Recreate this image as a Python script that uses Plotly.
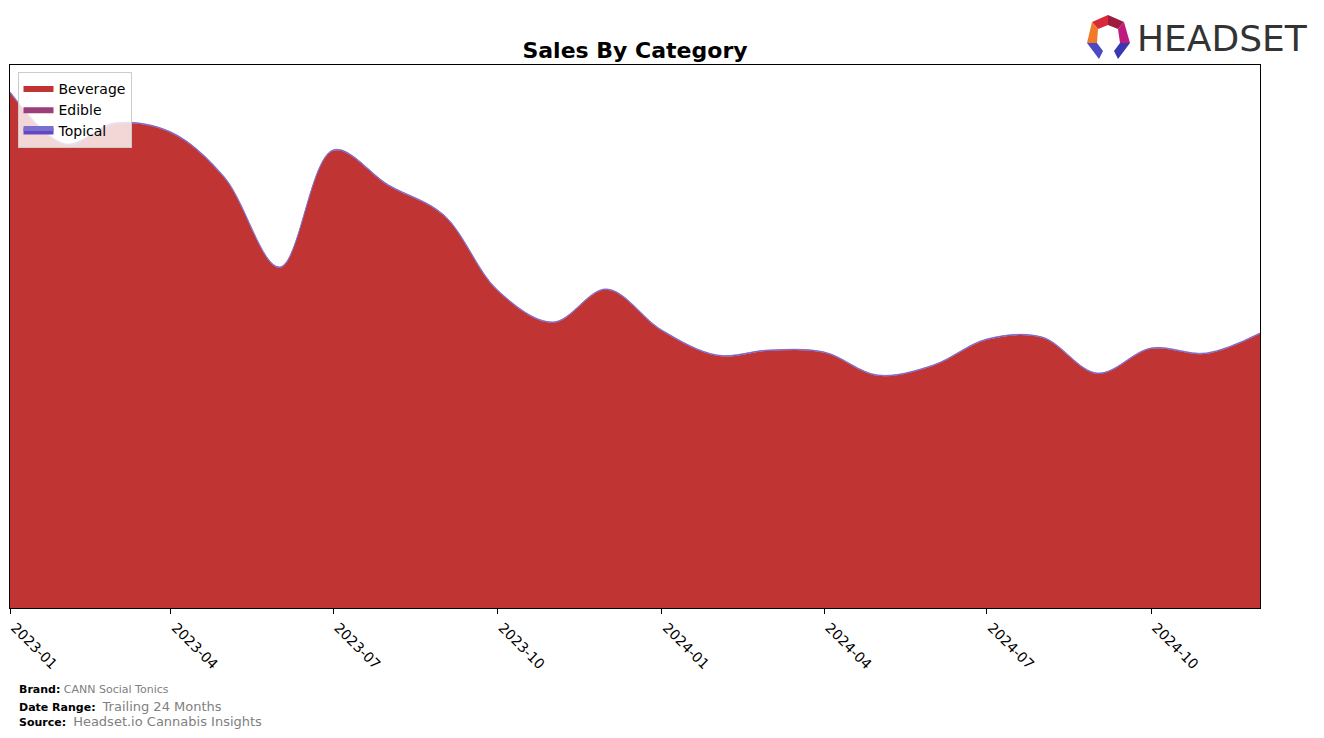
import plotly.graph_objects as go

months = ["2023-01-01", "2023-02-01", "2023-03-01", "2023-04-01", "2023-05-01", "2023-06-01",
          "2023-07-01", "2023-08-01", "2023-09-01", "2023-10-01", "2023-11-01", "2023-12-01",
          "2024-01-01", "2024-02-01", "2024-03-01", "2024-04-01", "2024-05-01", "2024-06-01",
          "2024-07-01", "2024-08-01", "2024-09-01", "2024-10-01", "2024-11-01", "2024-12-01"]

beverage = [51500, 46300, 48400, 47500, 43000, 34000,
            45700, 42200, 39200, 31700, 28500, 31800,
            27700, 25200, 25700, 25500, 23200, 24200,
            26800, 27000, 23400, 25900, 25400, 27400]
edible = [0] * 24
topical = [80] * 24

tick_vals = ["2023-01-01", "2023-04-01", "2023-07-01", "2023-10-01",
             "2024-01-01", "2024-04-01", "2024-07-01", "2024-10-01"]
tick_text = ["2023-01", "2023-04", "2023-07", "2023-10",
             "2024-01", "2024-04", "2024-07", "2024-10"]

colors = {"Beverage": "#c13434", "Edible": "#9b3f7a", "Topical": "#6447c2"}

fig = go.Figure()
for name, vals in [("Beverage", beverage), ("Edible", edible), ("Topical", topical)]:
    fig.add_trace(go.Scatter(
        x=months, y=vals, name=name, mode="lines", stackgroup="one",
        line=dict(shape="spline", smoothing=1.0, width=1 if name == "Topical" else 0,
                  color="#7a6fd0" if name == "Topical" else colors[name]),
        fillcolor=colors[name],
    ))

total_max = max(b + e + t for b, e, t in zip(beverage, edible, topical))

W, H = 1324, 738
L, R, T, B = 10, 1260, 65, 608


def px(x, y):
    return (x - L) / (R - L), (B - y) / (B - T)


def poly(points):
    pts = [px(x, y) for x, y in points]
    return "M " + " L ".join(f"{a:.5f},{b:.5f}" for a, b in pts) + " Z"


shapes = []
logo_parts = [
    ([(1108, 15), (1092, 22), (1098, 29), (1108, 25)], "#d8283a"),
    ([(1108, 15), (1124, 22), (1118, 29), (1108, 25)], "#9e1a3e"),
    ([(1092, 22), (1087, 43), (1097, 43), (1098, 29)], "#f07a2a"),
    ([(1124, 22), (1130, 43), (1120, 43), (1118, 29)], "#c01a7c"),
    ([(1087, 43), (1097, 43), (1103, 51), (1099, 59)], "#4a4ac4"),
    ([(1130, 43), (1120, 43), (1114, 51), (1118, 59)], "#3838b0"),
]
for pts, c in logo_parts:
    shapes.append(dict(type="path", xref="paper", yref="paper", path=poly(pts),
                       fillcolor=c, line=dict(width=0)))

annotations = []
lx, ly = px(1310, 39)
annotations.append(dict(text="HEADSET", xref="paper", yref="paper", x=lx, y=ly,
                        xanchor="right", yanchor="middle", showarrow=False,
                        font=dict(family="DejaVu Sans", size=36, color="#333333")))

fx = px(17, 0)[0]
footer = [
    (689, "<b>Brand:</b> <span style='color:#808080'>CANN Social Tonics</span>", 11),
    (706, "<b>Date Range:</b>  <span style='color:#808080;font-size:13px'>Trailing 24 Months</span>", 11),
    (721, "<b>Source:</b>  <span style='color:#808080;font-size:13px'>Headset.io Cannabis Insights</span>", 11),
]
for y, txt, s in footer:
    annotations.append(dict(text=txt, xref="paper", yref="paper", x=fx, y=px(0, y)[1],
                            xanchor="left", yanchor="middle", showarrow=False,
                            font=dict(family="DejaVu Sans", size=s, color="#000000")))

fig.update_layout(
    width=W, height=H,
    margin=dict(l=L, r=W - R, t=T, b=H - B, autoexpand=False),
    paper_bgcolor="white", plot_bgcolor="white",
    font=dict(family="DejaVu Sans", color="#000000"),
    title=dict(text="<b>Sales By Category</b>", x=(L + R) / 2 / W, xanchor="center",
               y=1 - 50 / H, yanchor="middle", font=dict(size=22, family="DejaVu Sans")),
    showlegend=True,
    legend=dict(x=0.006, y=0.988, xanchor="left", yanchor="top",
                bgcolor="rgba(255,255,255,0.8)", bordercolor="#cccccc", borderwidth=1,
                font=dict(size=14, family="DejaVu Sans"), traceorder="normal",
                itemsizing="constant", tracegroupgap=0),
    xaxis=dict(type="date", range=[months[0], months[-1]], tickvals=tick_vals, ticktext=tick_text,
               tickangle=45, ticks="outside", ticklen=5, tickcolor="black", automargin=False,
               ticklabelshift=5,
               showline=True, linecolor="black", linewidth=1, mirror=True,
               showgrid=False, zeroline=False, tickfont=dict(size=14)),
    yaxis=dict(range=[0, total_max * 1.052], showticklabels=False, ticks="", automargin=False,
               showline=True, linecolor="black", linewidth=1, mirror=True,
               showgrid=False, zeroline=False),
    shapes=shapes,
    annotations=annotations,
)

fig.write_html("out.html")
